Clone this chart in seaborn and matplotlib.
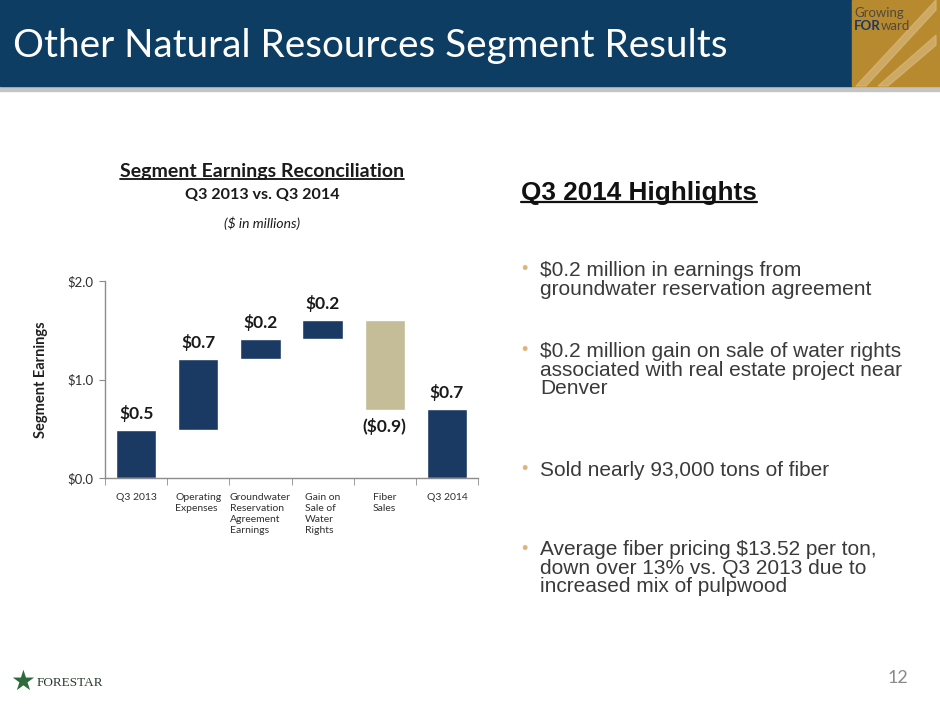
import numpy as np
import pandas as pd
import matplotlib
matplotlib.use("Agg")
import matplotlib.pyplot as plt
from matplotlib.patches import Rectangle, Polygon
from matplotlib.lines import Line2D
import seaborn as sns

# waterfall data ($ in millions)
categories = ["Q3 2013", "Operating\nExpenses", "Groundwater\nReservation\nAgreement\nEarnings",
              "Gain on\nSale of\nWater\nRights", "Fiber\nSales", "Q3 2014"]
changes = [0.49, 0.72, 0.20, 0.19, -0.91, 0.70]
is_total = [True, False, False, False, False, True]
bar_labels = ["$0.5", "$0.7", "$0.2", "$0.2", "($0.9)", "$0.7"]
bar_colors = ["#1b3a63", "#1b3a63", "#1b3a63", "#1b3a63", "#c4bd97", "#1b3a63"]

bullets = [
    "$0.2 million in earnings from\ngroundwater reservation agreement",
    "$0.2 million gain on sale of water rights\nassociated with real estate project near\nDenver",
    "Sold nearly 93,000 tons of fiber",
    "Average fiber pricing $13.52 per ton,\ndown over 13% vs. Q3 2013 due to\nincreased mix of pulpwood",
]
bullet_y = [270, 351, 470, 549]

# running bottoms for floating bars
bottoms, heights = [], []
level = 0.0
for c, tot in zip(changes, is_total):
    if tot:
        bottoms.append(0.0)
        heights.append(c)
        level = c
    else:
        new = level + c
        bottoms.append(min(level, new))
        heights.append(abs(c))
        level = new

df = pd.DataFrame({"step": categories, "height": heights})

sns.set_style("white")
plt.rcParams["font.family"] = ["Lato", "DejaVu Sans"]

W, H = 940, 705
fig = plt.figure(figsize=(9.4, 7.05), dpi=100)
fig.patch.set_facecolor("white")


def fx(px):
    return px / W


def fy(py):
    return 1 - py / H


# header band
fig.patches.append(Rectangle((0, fy(91)), 1, fy(86) - fy(91), transform=fig.transFigure,
                             color="#c4c4c4", zorder=0))
fig.patches.append(Rectangle((0, fy(86)), fx(852), 1 - fy(86), transform=fig.transFigure,
                             color="#0d3d62", zorder=1))
fig.patches.append(Rectangle((fx(852), fy(86)), 1 - fx(852), 1 - fy(86), transform=fig.transFigure,
                             color="#b88a30", zorder=1))
for off in (0, 22):
    fig.patches.append(Polygon([(fx(856 + off), fy(86)), (fx(866 + off), fy(86)),
                                (fx(936), fy(10 + off * 1.6)), (fx(936), fy(0 + off * 1.6))],
                               closed=True, transform=fig.transFigure, color="#d7b77a",
                               alpha=0.7, zorder=2))
fig.text(fx(854), fy(13), "Growing", color="#4f4a40", fontsize=9.5, va="center", ha="left", zorder=3)
t_for = fig.text(fx(854), fy(26), "FOR", color="#1b3a63", fontsize=9.5, fontweight="bold",
                 va="center", ha="left", zorder=3)
fig.text(0, 0, "")
ann = fig.add_artist(matplotlib.text.Annotation("ward", xy=(1.0, 0.5), xycoords=t_for,
                                                 va="center", ha="left", fontsize=9.5,
                                                 color="#4f4a40", zorder=3))
fig.text(fx(13), fy(46), "Other Natural Resources Segment Results", color="white",
         fontsize=27.8, va="center", ha="left", zorder=3)

# chart axes
ax = fig.add_axes([fx(105), fy(478), fx(478) - fx(105), fy(281) - fy(478)])
sns.barplot(data=df, x="step", y="height", hue="step", palette=bar_colors,
            legend=False, width=0.65, saturation=1, ax=ax)
for patch, b, h in zip(ax.patches, bottoms, heights):
    patch.set_y(b)
    patch.set_height(h)

ax.set_xlim(-0.5, len(categories) - 0.5)
ax.set_ylim(0, 2.0)
ax.set_yticks([0, 1, 2])
ax.set_yticklabels(["$0.0", "$1.0", "$2.0"])
ax.set_xlabel("")
ax.set_ylabel("Segment Earnings", fontsize=10.5, fontweight="bold", color="#202020", labelpad=14)
ax.set_xticks(range(len(categories)))
ax.set_xticklabels(categories, multialignment="left", linespacing=1.25)
ax.set_xticks(np.arange(-0.5, len(categories)), minor=True)
ax.tick_params(axis="x", which="major", length=0, pad=11, labelsize=7.5, labelcolor="#303030")
ax.tick_params(axis="x", which="minor", length=5, color="#8c8c8c", direction="out", bottom=True)
ax.tick_params(axis="y", length=4, color="#8c8c8c", direction="out", left=True,
               labelsize=9.5, labelcolor="#303030", pad=4)
for side in ("top", "right"):
    ax.spines[side].set_visible(False)
for side in ("left", "bottom"):
    ax.spines[side].set_color("#8c8c8c")
    ax.spines[side].set_linewidth(1)

for i, (b, h, lab, c) in enumerate(zip(bottoms, heights, bar_labels, changes)):
    if c < 0:
        ax.annotate(lab, (i, b), xytext=(0, -12), textcoords="offset points",
                    ha="center", va="center", fontsize=12.5, fontweight="bold", color="#1a1a1a")
    else:
        ax.annotate(lab, (i, b + h), xytext=(0, 12), textcoords="offset points",
                    ha="center", va="center", fontsize=12.5, fontweight="bold", color="#1a1a1a")

# chart titles
t1 = fig.text(fx(262), fy(171), "Segment Earnings Reconciliation", ha="center", va="center",
              fontsize=14, fontweight="bold", color="#1a1a1a")
fig.text(fx(262), fy(195), "Q3 2013 vs. Q3 2014", ha="center", va="center",
         fontsize=11.6, fontweight="bold", color="#1a1a1a")
fig.text(fx(262), fy(223), "($ in millions)", ha="center", va="center",
         fontsize=10, style="italic", color="#1a1a1a")

# highlights
t2 = fig.text(fx(521), fy(193), "Q3 2014 Highlights", ha="left", va="center",
              fontsize=18.8, fontweight="bold", color="#111111", family="Liberation Sans")
for txt, yy in zip(bullets, bullet_y):
    fig.text(fx(521), fy(yy), "\u2022", ha="left", va="center", fontsize=13,
             color="#e0b27a", family="Liberation Sans")
    fig.text(fx(540), fy(yy - 9), txt, ha="left", va="top", fontsize=15,
             color="#3a3a3a", family="Liberation Sans", linespacing=0.97)

# footer
fig.text(fx(898), fy(678), "12", ha="center", va="center", fontsize=13, color="#8a8a8a")
fig.text(fx(23), fy(682), "\u2605", ha="center", va="center", fontsize=20, color="#2f6b3a",
         family="DejaVu Sans")
fig.text(fx(37), fy(683), "FORESTAR", ha="left", va="center", fontsize=9.5, color="#2b3b2f",
         family="Liberation Serif")

# underlines for the two headings
fig.canvas.draw()
rend = fig.canvas.get_renderer()
for t, gap, lw in ((t1, 1, 1.3), (t2, 3, 1.6)):
    bb = t.get_window_extent(rend).transformed(fig.transFigure.inverted())
    yline = bb.y0 + (gap / H)
    fig.lines.append(Line2D([bb.x0, bb.x1], [yline, yline],
                            transform=fig.transFigure, color="#111111", linewidth=lw))

fig.savefig("out.png", dpi=100)
